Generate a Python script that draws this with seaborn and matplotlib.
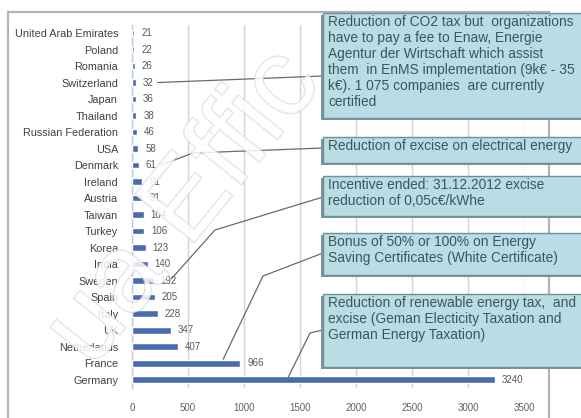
import matplotlib
matplotlib.use("Agg")
import matplotlib.pyplot as plt
import matplotlib.patheffects as pe
from matplotlib.patches import Rectangle
from matplotlib.lines import Line2D
import seaborn as sns
import pandas as pd

countries = ["United Arab Emirates", "Poland", "Romania", "Switzerland", "Japan",
             "Thailand", "Russian Federation", "USA", "Denmark", "Ireland", "Austria",
             "Taiwan", "Turkey", "Korea", "India", "Sweden", "Spain", "Italy", "UK",
             "Netherlands", "France", "Germany"]
certified = [21, 22, 26, 32, 36, 38, 46, 58, 61, 91, 91, 104, 106, 123, 140,
             192, 205, 228, 347, 407, 966, 3240]
x_ticks = [0, 500, 1000, 1500, 2000, 2500, 3000, 3500]

notes = [
    ("Switzerland",
     "Reduction of CO2 tax but  organizations\nhave to pay a fee to Enaw, Energie\n"
     "Agentur der Wirtschaft which assist\nthem  in EnMS implementation (9k€ - 35\n"
     "k€). 1 075 companies  are currently\ncertified"),
    ("Denmark", "Reduction of excise on electrical energy"),
    ("Sweden", "Incentive ended: 31.12.2012 excise\nreduction of 0,05c€/kWhe"),
    ("France", "Bonus of 50% or 100% on Energy\nSaving Certificates (White Certificate)"),
    ("Germany", "Reduction of renewable energy tax,  and\nexcise (Geman Electicity Taxation and\n"
                "German Energy Taxation)"),
]

df = pd.DataFrame({"country": countries, "certified": certified})

W, H = 581, 418
sns.set_theme(style="white")
plt.rcParams["font.family"] = ["Liberation Sans", "DejaVu Sans"]

fig = plt.figure(figsize=(W / 100, H / 100), dpi=100)
fig.patch.set_facecolor("white")


def fx(px):
    return px / W


def fy(py):
    return 1 - py / H


ax = fig.add_axes([fx(132), fy(388), fx(524) - fx(132), fy(24.75) - fy(388)])
sns.barplot(data=df, x="certified", y="country", orient="h", color="#4a6cae",
            saturation=1, width=0.4, ax=ax, zorder=3)
ax.set_xlim(0, 3500)
ax.set_xticks(x_ticks)
ax.set_xticklabels([str(t) for t in x_ticks], fontsize=7, color="#606060")
ax.tick_params(axis="y", labelsize=7.8, labelcolor="#404040", length=0, pad=10)
ax.tick_params(axis="x", length=0, pad=11)
ax.set_xlabel("")
ax.set_ylabel("")
ax.xaxis.grid(True, color="#d4d4d4", linewidth=1, zorder=0)
for s in ["top", "right", "bottom"]:
    ax.spines[s].set_visible(False)
ax.spines["left"].set_color("#b8cde6")
ax.spines["left"].set_linewidth(1)
ax.bar_label(ax.containers[0], labels=[str(v) for v in certified], padding=5,
             fontsize=7, color="#5a5a5a")

# chart border
fig.patches.append(Rectangle((fx(8), fy(430)), fx(549) - fx(8), fy(12) - fy(430),
                             transform=fig.transFigure, fill=False,
                             edgecolor="#b4b4b4", linewidth=1.6, zorder=1))

# callout boxes: (top, bottom) in pixels, with connector path
box_rows = [(13, 118), (137, 163), (176, 216), (233, 275), (294, 367)]
box_left, box_right = 323, 590
# (start offset from bar end in px, start dy, bend points, end y at the box)
connectors = {
    "Switzerland": (22, 0, [], 76),
    "Denmark": (22, 0, [(193, 153)], 148),
    "Sweden": (18, -2, [(215, 230)], 197),
    "France": (-17, -4, [(263, 276)], 253),
    "Germany": (None, -2, [(310, 333)], 330),
}

fig.canvas.draw()
for (country, text), (top, bot) in zip(notes, box_rows):
    fig.patches.append(Rectangle((fx(box_left - 2), fy(bot + 2)),
                                 fx(box_right) - fx(box_left), fy(top) - fy(bot),
                                 transform=fig.transFigure, facecolor="#7f9298",
                                 edgecolor="none", zorder=5))
    fig.patches.append(Rectangle((fx(box_left), fy(bot)),
                                 fx(box_right) - fx(box_left), fy(top) - fy(bot),
                                 transform=fig.transFigure, facecolor="#b8dde4",
                                 edgecolor="#6e9098", linewidth=1.0, zorder=6))
    fig.text(fx(box_left + 5), fy(top + 2), text, ha="left", va="top",
             fontsize=9.9, color="#3c5560", linespacing=1.19, zorder=7)

    i = countries.index(country)
    v = certified[i]
    x0, y0 = ax.transData.transform((v, i))
    dx, dy, bend, end_y = connectors[country]
    sx = 288 if dx is None else x0 + dx
    sy = (H - y0) + dy
    pts = [(sx, sy)] + bend + [(box_left, end_y)]
    fig.lines.append(Line2D([fx(p[0]) for p in pts], [fy(p[1]) for p in pts],
                            transform=fig.transFigure, color="#6a6a6a",
                            linewidth=0.9, zorder=4))

# watermark
fig.text(fx(185), fy(208), "ua Effic", rotation=51, ha="center", va="center",
         fontsize=80, color="white", alpha=0.6, zorder=8,
         path_effects=[pe.withStroke(linewidth=1.2, foreground="#cccccc")])

fig.savefig("out.png", dpi=100, facecolor="white")
